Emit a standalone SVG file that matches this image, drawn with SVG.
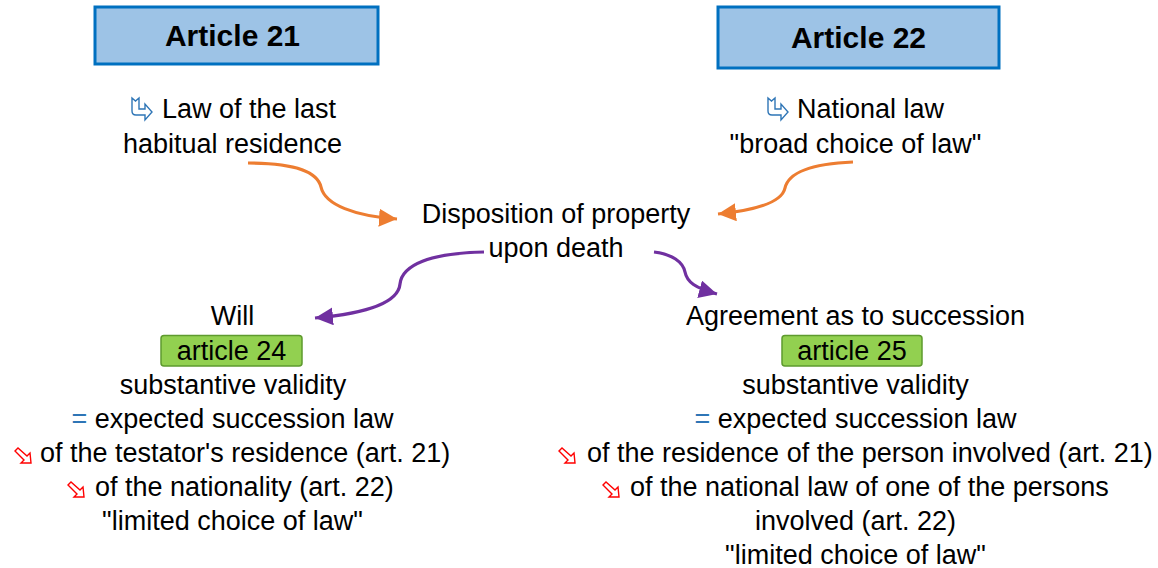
<svg xmlns="http://www.w3.org/2000/svg" width="1158" height="568" viewBox="0 0 1158 568">
<style>
.t{font-family:"Liberation Sans",Arial,sans-serif;font-size:27px;fill:#000}
.m{text-anchor:middle}
.h{font-family:"Liberation Sans",Arial,sans-serif;font-size:30px;font-weight:bold;text-anchor:middle;fill:#000}
.art{fill:#9DC3E6;stroke:#0070C0;stroke-width:3}
.grn{fill:#92D050;stroke:#5E9A2E;stroke-width:1.5}
.or{fill:none;stroke:#ED7D31;stroke-width:3.2;marker-end:url(#ao)}
.pu{fill:none;stroke:#7030A0;stroke-width:3.2;marker-end:url(#ap)}
.bi{fill:#fff;stroke:#2E75B6;stroke-width:1.4;stroke-linejoin:miter}
.ri{fill:#fff;stroke:#FF0000;stroke-width:1.4;stroke-linejoin:miter}
</style>
<defs>
<marker id="ao" markerUnits="userSpaceOnUse" markerWidth="20" markerHeight="20" refX="18" refY="9" orient="auto"><path d="M0,0 L18,9 L0,18 Z" fill="#ED7D31"/></marker>
<marker id="ap" markerUnits="userSpaceOnUse" markerWidth="20" markerHeight="20" refX="18" refY="9" orient="auto"><path d="M0,0 L18,9 L0,18 Z" fill="#7030A0"/></marker>
<symbol id="bico" viewBox="0 0 22 24" overflow="visible"><path class="bi" d="M1,1 L4.5,4 L8,1 L8,12 L14,12 L14,7 L21,15 L14,23 L14,18 L5,18 Q1,18 1,14 Z"/></symbol>
<symbol id="rico" viewBox="0 0 20 18" overflow="visible"><path class="ri" d="M1,4 L4,1 L13,9 L16,6 L17,16 L7,16 L10,13 Z"/></symbol>
</defs>

<g id="connectors">
<path class="or" d="M248,163 C300,163 318,174 321,187 C325,205 355,216 397,219"/>
<path class="or" d="M853,162 C805,164 788,175 785,188 C782,202 758,210 718,214"/>
<path class="pu" d="M484,252 C430,253 402,265 400,284 C398,305 360,314 315,318"/>
<path class="pu" d="M654,252 C672,254 683,262 685,272 C687,282 695,288 717,294"/>
</g>

<g id="article21">
<rect class="art" x="95" y="7" width="283" height="57"/>
<text class="h" x="232.5" y="46">Article 21</text>
</g>
<g id="article22">
<rect class="art" x="718" y="7" width="281" height="61"/>
<text class="h" x="858.5" y="48">Article 22</text>
</g>

<g id="law-last-residence">
<use href="#bico" x="131" y="97" width="22" height="24"/>
<text class="t" x="162" y="118">Law of the last</text>
<text class="t m" x="232.5" y="152.5">habitual residence</text>
</g>

<g id="national-law">
<use href="#bico" x="767" y="97" width="22" height="24"/>
<text class="t" x="797" y="118">National law</text>
<text class="t m" x="855.5" y="152.5">"broad choice of law"</text>
</g>

<g id="disposition">
<text class="t m" x="556" y="222.5">Disposition of property</text>
<text class="t m" x="556" y="256.5">upon death</text>
</g>

<g id="will">
<text class="t m" x="232.5" y="325">Will</text>
<rect class="grn" x="161" y="335.5" width="141" height="30.5" rx="3"/>
<text class="t m" x="231.5" y="359.5">article 24</text>
<text class="t m" x="233" y="393.5">substantive validity</text>
<text class="t m" x="232.5" y="427.5"><tspan fill="#2E75B6">=</tspan> expected succession law</text>
<use href="#rico" x="14" y="447" width="20" height="18"/>
<text class="t" x="40" y="462">of the testator's residence (art. 21)</text>
<use href="#rico" x="67" y="481" width="20" height="18"/>
<text class="t" x="95" y="496">of the nationality (art. 22)</text>
<text class="t m" x="232.5" y="530">"limited choice of law"</text>
</g>

<g id="agreement">
<text class="t m" x="855.5" y="325">Agreement as to succession</text>
<rect class="grn" x="782" y="335.5" width="140" height="30.5" rx="3"/>
<text class="t m" x="852" y="359.5">article 25</text>
<text class="t m" x="855.5" y="393.5">substantive validity</text>
<text class="t m" x="855.5" y="427.5"><tspan fill="#2E75B6">=</tspan> expected succession law</text>
<use href="#rico" x="558" y="447" width="20" height="18"/>
<text class="t" x="587" y="462">of the residence of the person involved (art. 21)</text>
<use href="#rico" x="602" y="481" width="20" height="18"/>
<text class="t" x="630" y="496">of the national law of one of the persons</text>
<text class="t m" x="855.5" y="530">involved (art. 22)</text>
<text class="t m" x="855.5" y="564">"limited choice of law"</text>
</g>
</svg>
